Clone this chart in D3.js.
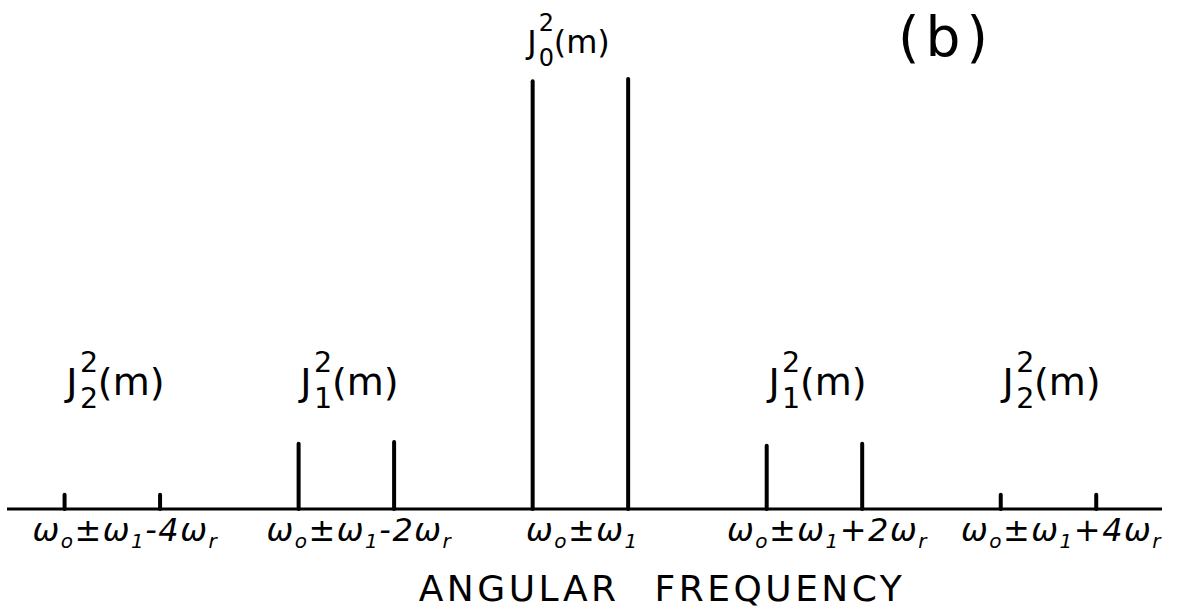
<!DOCTYPE html>
<html>
<head>
<meta charset="utf-8">
<script src="https://cdn.jsdelivr.net/npm/d3@7"></script>
<style>
  body { margin: 0; background: #fff; }
  svg { display: block; }
  text { fill: #000; }
</style>
</head>
<body>
<svg id="chart" width="1196" height="610"></svg>
<script>
// sideband orders (multiples of omega_r) and Bessel index of each pair
const orders = [-4, -2, 0, 2, 4];
const besselIndex = [2, 1, 0, 1, 2];
// relative intensity of the line at w0 - w1 + k*wr and at w0 + w1 + k*wr
const lowerAmp = [0.033, 0.152, 0.995, 0.147, 0.033];
const upperAmp = [0.033, 0.156, 1.0, 0.152, 0.033];
const shiftLabels = ["-4", "-2", "", "+2", "+4"];
const omega1 = 0.408; // in units of omega_r

let svg = d3.select("#chart");
let baseY = 509;

let xScale = d3.scaleLinear()
  .domain([-4.90, 4.97])
  .range([7, 1162]);

let yScale = d3.scaleLinear()
  .domain([0, 1])
  .range([baseY, 79]);

// build one record per spectral line
let lines = [];
orders.forEach((k, i) => {
  lines.push({ f: k - omega1, a: lowerAmp[i] });
  lines.push({ f: k + omega1, a: upperAmp[i] });
});

// frequency axis (just the baseline)
svg.append("line")
  .attr("x1", xScale.range()[0])
  .attr("x2", xScale.range()[1])
  .attr("y1", baseY)
  .attr("y2", baseY)
  .attr("stroke", "#000")
  .attr("stroke-width", 3);

svg.append("g")
  .selectAll("line")
  .data(lines)
  .join("line")
  .attr("x1", d => xScale(d.f))
  .attr("x2", d => xScale(d.f))
  .attr("y1", baseY)
  .attr("y2", d => yScale(d.a))
  .attr("stroke", "#000")
  .attr("stroke-width", 4)
  .attr("stroke-linecap", "round");

// J_n^2(m) labels above each pair, group origin = label centre
let jLabels = svg.append("g")
  .attr("font-family", "DejaVu Sans, sans-serif")
  .selectAll("g")
  .data(orders.map((k, i) => ({ k, n: besselIndex[i] })))
  .join("g")
  .attr("transform", d => {
    let big = d.k === 0;
    let x = xScale(d.k) + (big ? -12 : 3);
    let y = big ? 53 : 395;
    return `translate(${x},${y})`;
  });

jLabels.each(function(d) {
  let g = d3.select(this);
  let big = d.k === 0;
  let fs = big ? 32 : 38;
  g.append("text")
    .attr("x", -fs * 1.29)
    .attr("font-size", fs)
    .text("J");
  g.append("text")
    .attr("x", -fs * 0.93)
    .attr("y", -fs * (big ? 0.7 : 0.6))
    .attr("font-size", fs * 0.75)
    .text("2");
  g.append("text")
    .attr("x", -fs * 0.93)
    .attr("y", fs * (big ? 0.42 : 0.34))
    .attr("font-size", fs * 0.75)
    .text(d.n);
  g.append("text")
    .attr("x", -fs * 0.46)
    .attr("font-size", fs)
    .text("(m)");
});

// frequency labels under each pair
let fLabels = svg.append("g")
  .attr("font-family", "DejaVu Sans, sans-serif")
  .attr("font-style", "italic")
  .attr("font-size", 32)
  .selectAll("text")
  .data(orders.map((k, i) => ({ k, s: shiftLabels[i] })))
  .join("text")
  .attr("x", d => xScale(d.k) + (d.k === 0 ? 2 : 13))
  .attr("y", 541)
  .attr("text-anchor", "middle")
  .attr("letter-spacing", 1.5);

fLabels.each(function(d) {
  let t = d3.select(this);
  let parts = [["ω", 0], ["o", 1], ["±", 0], ["ω", 0], ["1", 1]];
  if (d.s) parts = parts.concat([[d.s, 0], ["ω", 0], ["r", 1]]);
  parts.forEach(([s, sub], j) => {
    let prevSub = j > 0 && parts[j - 1][1];
    t.append("tspan")
      .attr("dy", sub && !prevSub ? 7 : (!sub && prevSub ? -7 : 0))
      .attr("font-size", sub ? 20 : null)
      .text(s);
  });
});

svg.append("text")
  .attr("x", 662)
  .attr("y", 601)
  .attr("text-anchor", "middle")
  .attr("font-family", "DejaVu Sans, sans-serif")
  .attr("font-size", 36)
  .attr("letter-spacing", 3.5)
  .attr("word-spacing", 20)
  .text("ANGULAR FREQUENCY");

svg.append("text")
  .attr("x", 946)
  .attr("y", 56)
  .attr("text-anchor", "middle")
  .attr("font-family", "DejaVu Sans, sans-serif")
  .attr("font-size", 55)
  .attr("letter-spacing", 6)
  .text("(b)");
</script>
</body>
</html>
